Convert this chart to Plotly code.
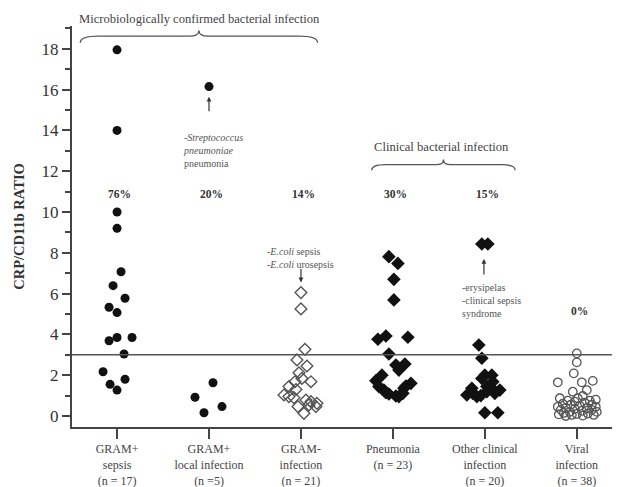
import plotly.graph_objects as go

# ---- data ----
categories = ["GRAM+<br>sepsis<br>(n = 17)", "GRAM+<br>local infection<br>(n =5)",
              "GRAM-<br>infection<br>(n = 21)", "Pneumonia<br>(n = 23)",
              "Other clinical<br>infection<br>(n = 20)", "Viral<br>infection<br>(n = 38)"]
percent_labels = ["76%", "20%", "14%", "30%", "15%", "0%"]

gram_pos_sepsis = [17.95, 14.0, 10.0, 9.2, 7.07, 6.39, 5.77, 5.33, 5.07, 3.69, 3.85, 3.85,
                   3.04, 2.17, 1.8, 1.55, 1.27]
gram_pos_sepsis_jit = [0, 0, 0, 0, 4, -4, 8, -8, 0, -8, 0, 15, 7, -14, 8, -7, 0]

gram_pos_local = [16.15, 1.63, 0.92, 0.46, 0.16]
gram_pos_local_jit = [0, 4, -14, 13, -5]

gram_neg = [6.05, 5.25, 3.27, 2.75, 2.45, 2.12, 1.84, 1.68, 1.68, 1.44, 1.3, 1.03, 0.95,
            0.9, 0.78, 0.7, 0.62, 0.54, 0.46, 0.46, 0.13]
gram_neg_jit = [0, 0, 4, -4, 6, -2, 1, 10, -6, -12, -5, -17, -12, -7, 5, 10, 16, 8, -3, 15, 3]

pneumonia = [7.81, 7.48, 6.7, 5.69, 3.76, 3.92, 3.86, 3.04, 2.5, 2.55, 2.25, 2.0, 1.73,
             1.6, 1.44, 1.47, 1.27, 1.08, 0.98, 1.11, 1.36, 1.14, 0.95]
pneumonia_jit = [-4, 5, 1, 1, -15, -7, 15, -4, 3, 12, 6, -11, -17, 18, -14, 13, -9, -4, 3,
                 10, 11, -7, 6]

other_clinical = [8.43, 8.43, 3.48, 2.83, 2.0, 2.0, 1.84, 1.68, 1.36, 1.03, 1.11, 0.95,
                  1.44, 1.31, 1.27, 1.19, 1.11, 0.16, 0.16, 1.0]
other_clinical_jit = [-3, 3, -6, -3, 0, 7, -3, 8, -13, -18, -12, -8, 2, 8, 15, 2, 10, 0,
                      13, -4]

viral = [3.07, 2.63, 2.09, 1.72, 1.65, 1.65, 1.27, 1.19, 0.98, 0.87, 0.87, 0.75, 0.75, 0.8,
         0.7, 0.65, 0.6, 0.55, 0.55, 0.5, 0.45, 0.45, 0.4, 0.38, 0.35, 0.3, 0.3, 0.25, 0.2,
         0.2, 0.15, 0.12, 0.1, 0.08, 0.05, 0.05, 0.02, 0.0]
viral_jit = [0, 0, -3, 16, -19, 5, 10, -4, 6, -17, 1, -9, 13, 19, -2, 8, -14, 15, -6, 3,
             -19, 19, -11, 10, -2, 15, -16, 5, -7, 20, -13, 11, 0, -18, 17, -5, 6, -11]

cutoff = 3.0

PX_PER_CAT = 92.0
SERIF = "Liberation Serif, Times New Roman, serif"

groups = [
    (gram_pos_sepsis, gram_pos_sepsis_jit, "circle", "#111111", 9, 0),
    (gram_pos_local, gram_pos_local_jit, "circle", "#111111", 9, 0),
    (gram_neg, gram_neg_jit, "diamond-open", "#555555", 9, 1.4),
    (pneumonia, pneumonia_jit, "diamond", "#111111", 10.5, 0),
    (other_clinical, other_clinical_jit, "diamond", "#111111", 10.5, 0),
    (viral, viral_jit, "circle-open", "#555555", 8.5, 1.3),
]

fig = go.Figure()
for i, (vals, jit, sym, col, sz, lw) in enumerate(groups):
    fig.add_trace(go.Scatter(
        x=[i + j / PX_PER_CAT for j in jit], y=vals, mode="markers",
        marker=dict(symbol=sym, color=col, size=sz, line=dict(width=lw, color=col)),
        showlegend=False, hoverinfo="y"))

# cutoff line
fig.add_shape(type="line", xref="paper", yref="y", x0=0, x1=1, y0=cutoff, y1=cutoff,
              line=dict(color="#555555", width=1.5))


def brace(x0, x1, y_end, y_flat, y_tip, dx_end, dx_mid):
    xm = (x0 + x1) / 2
    return (f"M {x0},{y_end} Q {x0},{y_flat} {x0+dx_end},{y_flat} "
            f"L {xm-dx_mid},{y_flat} Q {xm},{y_flat} {xm},{y_tip} "
            f"Q {xm},{y_flat} {xm+dx_mid},{y_flat} "
            f"L {x1-dx_end},{y_flat} Q {x1},{y_flat} {x1},{y_end}")


fig.add_shape(type="path", xref="x", yref="y",
              path=brace(-0.40, 2.18, 18.3, 18.62, 18.9, 0.2, 0.1),
              line=dict(color="#555555", width=1.3))
fig.add_shape(type="path", xref="x", yref="y",
              path=brace(2.77, 4.33, 12.05, 12.32, 12.58, 0.15, 0.08),
              line=dict(color="#555555", width=1.3))

ann = []
ann.append(dict(x=0.9, y=1.04, xref="x", yref="paper", text="Microbiologically confirmed bacterial infection",
                showarrow=False, font=dict(family=SERIF, size=12.6, color="#444444")))
ann.append(dict(x=3.53, y=13.2, xref="x", yref="y", text="Clinical bacterial infection",
                showarrow=False, font=dict(family=SERIF, size=12.6, color="#444444")))
for i, t in enumerate(percent_labels):
    ann.append(dict(x=i + 0.03, y=5.15 if i == 5 else 10.88, xref="x", yref="y",
                    text=f"<b>{t}</b>", showarrow=False,
                    font=dict(family=SERIF, size=11.5, color="#333333")))

small = dict(family=SERIF, size=10, color="#555555")
ann.append(dict(x=0.69, y=14.0, xref="x", yref="y", xanchor="left", yanchor="top", align="left",
                text="-<i>Streptococcus</i><br><i>pneumoniae</i><br>pneumonia",
                showarrow=False, font=small))
ann.append(dict(x=1.0, y=15.65, xref="x", yref="y", text="", showarrow=True, ax=0, ay=16,
                arrowhead=2, arrowsize=0.8, arrowwidth=1.2, arrowcolor="#333333"))
ann.append(dict(x=2.0, y=8.45, xref="x", yref="y", yanchor="top", align="left",
                text="-<i>E.coli</i> sepsis<br>-<i>E.coli</i> urosepsis",
                showarrow=False, font=small))
ann.append(dict(x=2.0, y=6.55, xref="x", yref="y", text="", showarrow=True, ax=0, ay=-15,
                arrowhead=2, arrowsize=0.8, arrowwidth=1.2, arrowcolor="#333333"))
ann.append(dict(x=3.73, y=6.65, xref="x", yref="y", xanchor="left", yanchor="top", align="left",
                text="-erysipelas<br>-clinical sepsis<br>syndrome",
                showarrow=False, font=small))
ann.append(dict(x=3.99, y=7.7, xref="x", yref="y", text="", showarrow=True, ax=0, ay=17,
                arrowhead=2, arrowsize=0.8, arrowwidth=1.2, arrowcolor="#333333"))

# page body adds ~8px offset; margins compensate for it
fig.update_layout(
    width=620, height=487, margin=dict(l=64, r=8, t=18, b=68),
    paper_bgcolor="white", plot_bgcolor="white",
    annotations=ann,
    xaxis=dict(range=[-0.49, 5.47], tickvals=list(range(len(categories))), ticktext=categories,
               showgrid=False, zeroline=False, showline=True, linecolor="#444444", linewidth=2,
               ticks="outside", ticklen=10, tickwidth=1.5, tickcolor="#444444",
               tickfont=dict(family=SERIF, size=12, color="#444444")),
    yaxis=dict(range=[-0.54, 19.12], tickvals=list(range(0, 19, 2)),
               showgrid=False, zeroline=False, showline=True, linecolor="#444444", linewidth=2,
               ticks="outside", ticklen=8, tickwidth=1.5, tickcolor="#444444",
               minor=dict(dtick=1, ticks="outside", ticklen=5, tickwidth=1.5, tickcolor="#444444"),
               tickfont=dict(family=SERIF, size=17, color="#333333"),
               title=dict(text="<b>CRP/CD11b RATIO</b>", standoff=14,
                          font=dict(family=SERIF, size=14.5, color="#333333"))),
)

fig.write_html("out.html")
